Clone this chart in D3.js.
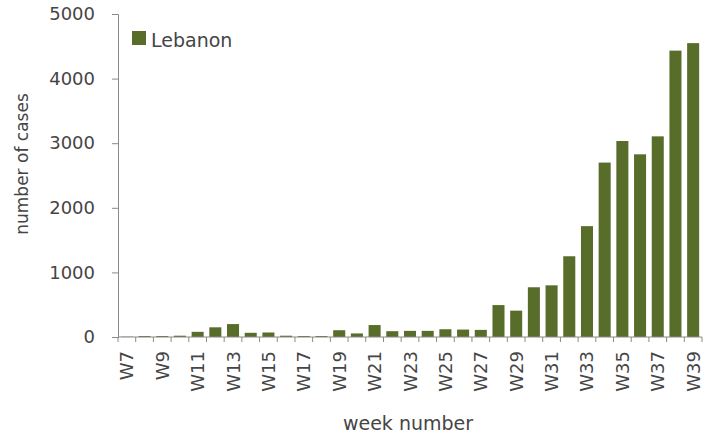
<!DOCTYPE html>
<html><head><meta charset="utf-8">
<script src="https://cdn.jsdelivr.net/npm/d3@7"></script>
<style>body{margin:0;background:#fff}svg{display:block}text{font-family:"DejaVu Sans",sans-serif;fill:#454545}</style>
</head><body><svg id="c" width="725" height="436"></svg>
<script>
const weeks = d3.range(7, 40).map(w => "W" + w);
const cases = [5, 15, 15, 20, 80, 150, 200, 65, 70, 20, 15, 15, 105, 55, 185, 90, 95, 95, 120, 115, 110, 494, 408, 770, 800, 1250, 1716, 2700, 3034, 2828, 3106, 4433, 4549];
const yTicks = [0, 1000, 2000, 3000, 4000, 5000];
const seriesName = "Lebanon";

const svg = d3.select("#c");
const m = {l: 118, t: 14, r: 702, b: 337};
const x = d3.scaleBand().domain(weeks).range([m.l, m.r]).paddingInner(0.32).paddingOuter(0.16);
const y = d3.scaleLinear().domain([0, 5000]).range([m.b, m.t]);
const color = "#596d2b";

svg.selectAll("rect.bar").data(cases).join("rect").attr("class","bar")
  .attr("x", (d,i) => x(weeks[i])).attr("width", x.bandwidth())
  .attr("y", d => y(d)).attr("height", d => m.b - y(d)).attr("fill", color);

// y axis
const ya = svg.append("g").attr("transform", `translate(${m.l},0)`)
  .call(d3.axisLeft(y).tickValues(yTicks).tickFormat(d3.format("d")).tickSize(6).tickPadding(17));
ya.select(".domain").attr("stroke", "#8a8a8a");
ya.selectAll(".tick line").attr("stroke", "#8a8a8a");
ya.selectAll("text").style("font-size", "18px").attr("fill", "#454545").style("font-family", "DejaVu Sans");

// x axis
const xa = svg.append("g").attr("transform", `translate(0,${m.b})`);
xa.append("line").attr("x1", m.l).attr("x2", m.r).attr("stroke", "#8a8a8a");
xa.selectAll("line.tk").data(d3.range(weeks.length + 1)).join("line").attr("class","tk")
  .attr("x1", i => m.l + i * (m.r - m.l) / weeks.length).attr("x2", i => m.l + i * (m.r - m.l) / weeks.length)
  .attr("y1", 0).attr("y2", 5).attr("stroke", "#8a8a8a");
xa.selectAll("text").data(weeks.filter((w,i) => i % 2 === 0)).join("text")
  .attr("transform", d => `translate(${x(d) + x.bandwidth()/2 + 6.5},14) rotate(-90)`)
  .attr("text-anchor", "end").style("font-size", "18px").text(d => d);

// titles
svg.append("text").attr("x", 408).attr("y", 430).attr("text-anchor", "middle").style("font-size", "19px").text("week number");
svg.append("text").attr("transform", "translate(28,164) rotate(-90)").attr("text-anchor", "middle").style("font-size", "17px").text("number of cases");

// legend
svg.append("rect").attr("x", 132).attr("y", 31).attr("width", 14).attr("height", 14).attr("fill", color);
svg.append("text").attr("x", 151).attr("y", 47).style("font-size", "19px").text(seriesName);
</script></body></html>
